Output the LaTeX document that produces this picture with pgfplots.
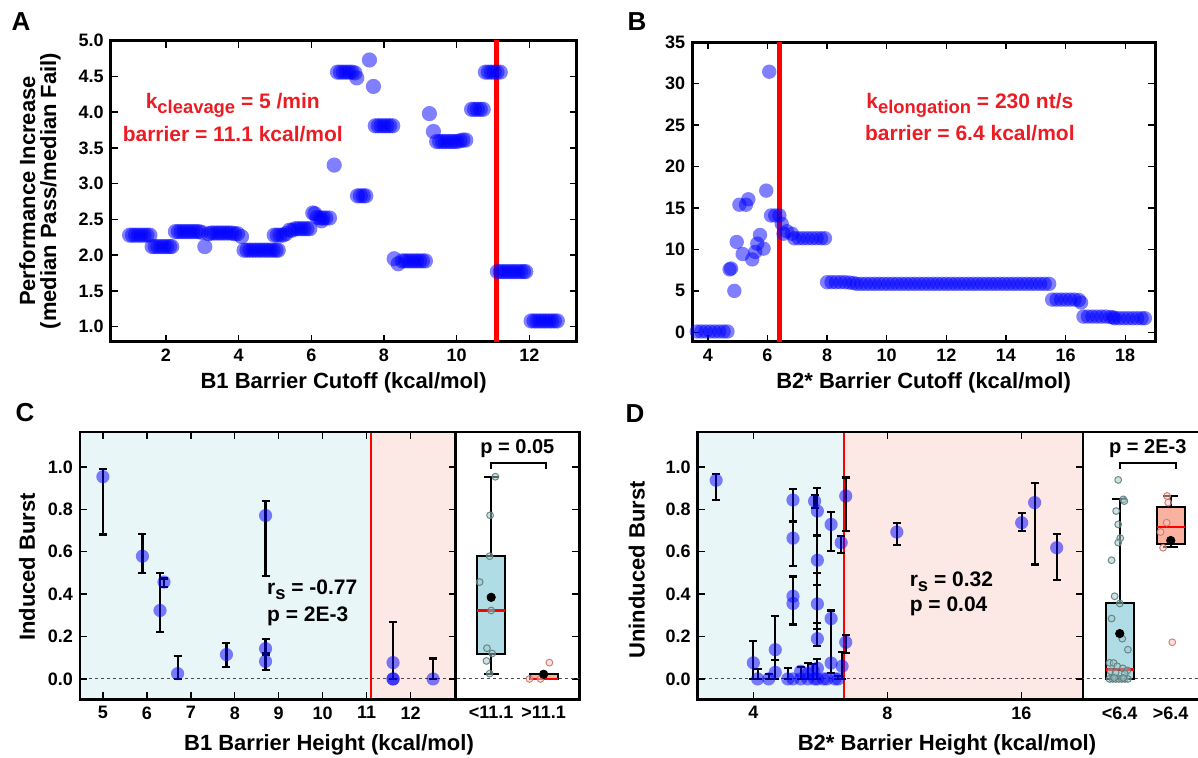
\documentclass[border=0pt]{standalone}
\usepackage{fontspec}
\setmainfont{Liberation Sans}
\usepackage{pgfplots}
\pgfplotsset{compat=1.18}
\usepgfplotslibrary{statistics}
\definecolor{txtred}{RGB}{236,28,36}
\definecolor{bgblue}{RGB}{233,246,248}
\definecolor{bgpink}{RGB}{252,232,229}
\definecolor{boxblue}{RGB}{176,221,229}
\definecolor{boxpink}{RGB}{250,178,160}
\definecolor{dotedgeb}{RGB}{95,125,125}
\definecolor{dotfillb}{RGB}{160,200,205}
\definecolor{dotedgep}{RGB}{200,120,110}
\definecolor{dotfillp}{RGB}{250,200,190}
\newcommand{\sub}[1]{\raisebox{-0.45ex}{\fontsize{9.2}{9.2}\selectfont #1}}
\pgfplotsset{
  panel/.style={scale only axis, anchor=south west, axis line style={line width=1.3pt},
    tick align=inside, major tick length=3.5pt, tick style={black, line width=0.7pt},
    tick label style={font=\fontsize{9}{9}\selectfont},
    /pgf/number format/assume math mode=true},
  onedec/.style={yticklabel style={/pgf/number format/fixed, /pgf/number format/fixed zerofill, /pgf/number format/precision=1}},
  bluept/.style={blue, only marks, mark=*, mark size=3.4pt, mark options={draw opacity=0, fill=blue, fill opacity=0.5}},
  ebars/.style={black, only marks, mark=*, mark size=0.01pt, forget plot,
    error bars/.cd, y dir=both, y explicit, error mark=-,
    error bar style={draw=black, line width=1.1pt, opacity=1},
    error mark options={rotate=90, draw=black, draw opacity=1, opacity=1, line width=1.1pt, mark size=2pt}},
  zline/.style={gray!60!black, line width=0.5pt, dash pattern=on 1.5pt off 1.5pt, forget plot},
  dotb/.style={only marks, mark=*, mark size=1.7pt, mark options={draw=dotedgeb, fill=dotfillb, fill opacity=0.5, draw opacity=0.9, line width=0.5pt}},
  dotp/.style={only marks, mark=*, mark size=1.7pt, mark options={draw=dotedgep, fill=dotfillp, fill opacity=0.5, draw opacity=0.9, line width=0.5pt}},
  bxp/.style={draw=black, line width=1pt, boxplot/draw direction=y,
    boxplot/every median/.style={draw=red, line width=1.3pt}},
}
\begin{document}
\bfseries
\begin{tikzpicture}
\useasboundingbox (0,0) rectangle (599pt,379pt);
% ---------------- Panel A
\begin{axis}[panel, at={(55.35pt,208.15pt)}, width=232.95pt, height=150.5pt,
  xmin=0.48, xmax=13.3, ymin=0.79, ymax=5.0, xtick={2,4,6,8,10,12},
  ytick={1,1.5,2,2.5,3,3.5,4,4.5,5}, onedec, axis line style={line width=1.5pt}]
\addplot[red, line width=2.6pt, forget plot] coordinates {(11.1,0) (11.1,6)};
\addplot[bluept, mark size=3.8pt] coordinates {
(1.00,2.28)(1.08,2.28)(1.16,2.28)(1.24,2.28)(1.32,2.28)(1.40,2.28)(1.48,2.28)(1.56,2.28)
(1.62,2.12)(1.70,2.12)(1.78,2.12)(1.86,2.12)(1.94,2.12)(2.02,2.12)(2.10,2.12)(2.16,2.12)
(2.26,2.33)(2.34,2.33)(2.42,2.33)(2.50,2.33)(2.58,2.33)(2.66,2.33)(2.74,2.33)(2.82,2.33)(2.90,2.33)(2.98,2.32)
(3.07,2.12)
(3.17,2.30)(3.25,2.31)(3.33,2.31)(3.41,2.31)(3.49,2.31)(3.57,2.31)(3.65,2.31)(3.73,2.31)(3.81,2.31)(3.89,2.30)(3.97,2.30)
(4.08,2.26)
(4.15,2.07)(4.23,2.07)(4.31,2.07)(4.39,2.07)(4.47,2.07)(4.55,2.07)(4.63,2.07)(4.71,2.07)(4.79,2.07)(4.87,2.07)(4.95,2.07)(5.03,2.07)(5.09,2.07)
(4.98,2.28)(5.06,2.28)(5.14,2.28)(5.22,2.28)(5.30,2.30)
(5.40,2.35)(5.48,2.35)(5.56,2.37)(5.64,2.37)(5.72,2.37)(5.80,2.37)(5.88,2.37)(5.96,2.37)
(6.04,2.59)(6.10,2.58)
(6.16,2.53)(6.24,2.52)(6.28,2.48)(6.32,2.52)(6.40,2.52)(6.50,2.52)
(6.63,3.26)
(6.72,4.56)(6.80,4.56)(6.88,4.56)(6.96,4.56)(7.04,4.56)(7.12,4.56)(7.20,4.55)
(7.25,4.48)
(7.27,2.83)(7.35,2.83)(7.43,2.83)(7.50,2.83)
(7.60,4.73)(7.71,4.36)
(7.76,3.81)(7.84,3.81)(7.92,3.81)(8.00,3.81)(8.08,3.81)(8.16,3.81)(8.24,3.81)
(8.28,1.95)(8.39,1.88)
(8.50,1.92)(8.58,1.92)(8.66,1.92)(8.74,1.92)(8.82,1.92)(8.90,1.92)(8.98,1.92)(9.06,1.92)(9.14,1.92)
(9.25,3.98)(9.36,3.73)
(9.45,3.59)(9.53,3.59)(9.61,3.59)(9.69,3.59)(9.77,3.59)(9.85,3.59)(9.93,3.59)(10.01,3.59)(10.09,3.60)(10.17,3.61)(10.25,3.61)
(10.41,4.04)(10.49,4.04)(10.57,4.04)(10.65,4.04)(10.73,4.04)
(10.79,4.56)(10.87,4.56)(10.95,4.56)(11.03,4.56)(11.11,4.56)(11.20,4.56)
(11.12,1.77)(11.20,1.77)(11.28,1.77)(11.36,1.77)(11.44,1.77)(11.52,1.77)(11.60,1.77)(11.68,1.77)(11.76,1.77)(11.84,1.77)(11.90,1.77)
(12.05,1.08)(12.13,1.08)(12.21,1.08)(12.29,1.08)(12.37,1.08)(12.45,1.08)(12.53,1.08)(12.61,1.08)(12.69,1.08)(12.77,1.08)
};
\node[txtred, font=\fontsize{10.5}{10.5}\selectfont] at (axis cs:3.84,4.10) {k\sub{cleavage} = 5 /min};
\node[txtred, font=\fontsize{10.5}{10.5}\selectfont] at (axis cs:3.84,3.70) {barrier = 11.1 kcal/mol};
\end{axis}
% ---------------- Panel B
\begin{axis}[panel, at={(346.15pt,208.15pt)}, width=231.35pt, height=149.7pt,
  xmin=3.48, xmax=19.0, ymin=-1.13, ymax=35, xtick={4,6,8,10,12,14,16,18},
  ytick={0,5,10,15,20,25,30,35}, axis line style={line width=1.5pt}]
\addplot[red, line width=2.6pt, forget plot] coordinates {(6.4,-5) (6.4,40)};
\addplot[bluept, mark size=3.6pt] coordinates {
(3.63,0.1)(3.78,0.1)(3.93,0.1)(4.08,0.1)(4.23,0.1)(4.38,0.1)(4.53,0.1)(4.66,0.1)
(4.73,7.6)(4.78,7.7)(4.89,5.0)(4.97,10.9)(5.06,15.4)(5.17,9.45)(5.28,15.4)(5.36,16.05)(5.49,8.8)(5.59,9.7)(5.66,10.7)(5.75,11.75)(5.87,10.1)(5.96,17.1)(6.06,31.45)(6.12,14.1)(6.26,14.1)(6.40,14.1)(6.48,13.1)(6.54,11.9)(6.65,12.2)(6.82,11.9)
(6.90,11.35)(7.05,11.35)(7.20,11.35)(7.35,11.35)(7.50,11.35)(7.65,11.35)(7.80,11.35)(7.93,11.35)
(8.00,6.05)(8.15,6.05)(8.30,6.05)(8.45,6.05)(8.60,6.05)(8.75,6.0)(8.88,5.95)
(9.00,5.85)(9.15,5.85)(9.30,5.85)(9.45,5.85)(9.60,5.85)(9.75,5.85)(9.90,5.85)(10.05,5.85)(10.20,5.85)(10.35,5.85)(10.50,5.85)(10.65,5.85)(10.80,5.85)(10.95,5.85)(11.10,5.85)(11.25,5.85)(11.40,5.85)(11.55,5.85)(11.70,5.85)(11.85,5.85)(12.00,5.85)(12.15,5.85)(12.30,5.85)(12.45,5.85)(12.60,5.85)(12.75,5.85)(12.90,5.85)(13.05,5.85)(13.20,5.85)(13.35,5.85)(13.50,5.85)(13.65,5.85)(13.80,5.85)(13.95,5.85)(14.10,5.85)(14.25,5.85)(14.40,5.85)(14.55,5.85)(14.70,5.85)(14.85,5.85)(15.00,5.85)(15.15,5.85)(15.30,5.85)(15.45,5.85)
(15.55,3.95)(15.70,3.95)(15.85,3.95)(16.00,3.95)(16.15,3.95)(16.30,3.95)(16.45,3.9)(16.52,3.6)
(16.60,1.9)(16.75,1.9)(16.90,1.9)(17.05,1.9)(17.20,1.9)(17.35,1.9)(17.50,1.85)(17.60,1.8)
(17.65,1.7)(17.80,1.7)(17.95,1.7)(18.10,1.7)(18.25,1.7)(18.40,1.7)(18.55,1.7)(18.66,1.7)
};
\node[txtred, font=\fontsize{10.5}{10.5}\selectfont] at (axis cs:12.79,27.4) {k\sub{elongation} = 230 nt/s};
\node[txtred, font=\fontsize{10.5}{10.5}\selectfont] at (axis cs:12.79,24.0) {barrier = 6.4 kcal/mol};
\end{axis}
% ---------------- Panel C main
\begin{axis}[panel, at={(40pt,29.25pt)}, width=187.75pt, height=133.75pt, axis on top,
  xmin=4.48, xmax=13.02, ymin=-0.097, ymax=1.165, xtick={5,6,7,8,9,10,11,12},
  ytick={0,0.2,0.4,0.6,0.8,1.0}, onedec]
\addplot[fill=bgblue, draw=none, forget plot] coordinates {(4,-0.5) (11.1,-0.5) (11.1,1.5) (4,1.5)} -- cycle;
\addplot[fill=bgpink, draw=none, forget plot] coordinates {(11.1,-0.5) (14,-0.5) (14,1.5) (11.1,1.5)} -- cycle;
\addplot[zline] coordinates {(4,0) (14,0)};
\addplot[red, line width=1.2pt, forget plot] coordinates {(11.1,-0.5) (11.1,1.5)};
\addplot[bluept, mark size=3.3pt] coordinates {(5.0,0.954)(5.9,0.579)(6.3,0.323)(6.39,0.457)(6.7,0.025)(7.81,0.115)(8.7,0.771)(8.7,0.143)(8.7,0.083)(11.6,0.077)(11.6,0.0)(11.6,0.0)(12.51,0.0)};
\addplot[ebars] coordinates {
(5.0,0.954) += (0,0.035) -= (0,0.273)
(5.9,0.579) += (0,0.106) -= (0,0.081)
(6.3,0.323) += (0,0.177) -= (0,0.102)
(6.39,0.457) += (0,0.017) -= (0,0.022)
(6.7,0.025) += (0,0.082) -= (0,0.025)
(7.81,0.115) += (0,0.055) -= (0,0.058)
(8.7,0.771) += (0,0.067) -= (0,0.286)
(8.7,0.143) += (0,0.047) -= (0,0.03)
(8.7,0.083) += (0,0.037) -= (0,0.039)
(11.6,0.077) += (0,0.193) -= (0,0.077)
(12.51,0.0) += (0,0.096) -= (0,0.0)
};
\node[anchor=west, font=\fontsize{10.5}{10.5}\selectfont] at (axis cs:8.575,0.419) {r\sub{s} = -0.77};
\node[anchor=west, font=\fontsize{10.5}{10.5}\selectfont] at (axis cs:8.575,0.293) {p = 2E-3};
\end{axis}
% ---------------- Panel C box
\begin{axis}[panel, at={(227.75pt,29.25pt)}, width=61.9pt, height=133.75pt,
  xmin=-0.68, xmax=1.68, ymin=-0.097, ymax=1.165, xtick={0,1}, xticklabels={<11.1,>11.1},
  ytick={0,0.2,0.4,0.6,0.8,1.0}, yticklabels={}, ytick pos=right, xtick style={draw=none}]
\addplot[zline] coordinates {(-1,0) (2,0)};
\addplot[bxp, fill=boxblue,
  boxplot prepared={draw position=0, lower whisker=0.025, lower quartile=0.116, median=0.323,
  upper quartile=0.582, upper whisker=0.954, box extend=0.53, whisker extend=0.28}] coordinates {};
\addplot[bxp, fill=boxpink,
  boxplot prepared={draw position=1, lower whisker=0, lower quartile=0, median=0,
  upper quartile=0.025, upper whisker=0.025, box extend=0.53, whisker extend=0.28}] coordinates {};
\addplot[dotb] coordinates {(0.08,0.954)(-0.02,0.772)(-0.03,0.579)(-0.22,0.457)(0,0.323)(-0.08,0.145)(0.02,0.12)(-0.09,0.085)(-0.03,0.025)};
\addplot[dotp] coordinates {(0.73,0)(0.94,0)(1.11,0.077)};
\addplot[only marks, mark=*, mark size=2.1pt, black] coordinates {(0,0.385)(1,0.022)};
\addplot[black, line width=1pt, forget plot] coordinates {(0,0.99) (0,1.02) (1.05,1.02) (1.05,0.99)};
\node[font=\fontsize{10}{10}\selectfont] at (axis cs:0.5,1.085) {p = 0.05};
\end{axis}
% ---------------- Panel D main
\begin{axis}[panel, at={(348.85pt,29.25pt)}, width=192.65pt, height=133.75pt, axis on top,
  xmode=log, log basis x=2, xmin=3, xmax=22, ymin=-0.097, ymax=1.165,
  xtick={4,8,16}, xticklabels={4,8,16}, minor xtick={}, ytick={0,0.2,0.4,0.6,0.8,1.0}, onedec]
\addplot[fill=bgblue, draw=none, forget plot] coordinates {(2,-0.5) (6.4,-0.5) (6.4,1.5) (2,1.5)} -- cycle;
\addplot[fill=bgpink, draw=none, forget plot] coordinates {(6.4,-0.5) (30,-0.5) (30,1.5) (6.4,1.5)} -- cycle;
\addplot[zline] coordinates {(2,0) (30,0)};
\addplot[red, line width=1.2pt, forget plot] coordinates {(6.4,-0.5) (6.4,1.5)};
\addplot[bluept, mark size=3.3pt] coordinates {
(3.30,0.937)(4.00,0.076)(4.09,0.0)(4.33,0.0)(4.48,0.138)(4.48,0.031)(4.78,0.0)
(4.91,0.844)(4.91,0.664)(4.91,0.390)(4.91,0.356)(4.91,0.0)(5.11,0.036)(5.11,0.0)
(5.30,0.025)(5.30,0.0)(5.45,0.04)(5.49,0.839)(5.49,0.0)
(5.57,0.792)(5.57,0.56)(5.57,0.354)(5.57,0.19)(5.57,0.05)(5.57,0.0)(5.75,0.0)(5.85,0.0)
(5.98,0.729)(5.98,0.285)(5.98,0.075)(6.10,0.0)(6.20,0.0)(6.30,0.643)(6.33,0.06)
(6.45,0.863)(6.45,0.173)(8.40,0.693)(16.02,0.737)(17.13,0.832)(19.2,0.619)};
\addplot[ebars] coordinates {
(3.30,0.937) += (0,0.028) -= (0,0.094)
(4.00,0.076) += (0,0.102) -= (0,0.076)
(4.09,0.0) += (0,0.047) -= (0,0.0)
(4.33,0.0) += (0,0.025) -= (0,0.0)
(4.48,0.138) += (0,0.158) -= (0,0.048)
(4.48,0.031) += (0,0.059) -= (0,0.031)
(4.78,0.0) += (0,0.052) -= (0,0.0)
(4.91,0.844) += (0,0.052) -= (0,0.101)
(4.91,0.664) += (0,0.079) -= (0,0.132)
(4.91,0.390) += (0,0.095) -= (0,0.13)
(4.91,0.356) += (0,0.124) -= (0,0.101)
(5.11,0.036) += (0,0.021) -= (0,0.036)
(5.30,0.025) += (0,0.05) -= (0,0.025)
(5.45,0.04) += (0,0.03) -= (0,0.04)
(5.49,0.839) += (0,0.027) -= (0,0.031)
(5.57,0.792) += (0,0.11) -= (0,0.115)
(5.57,0.56) += (0,0.117) -= (0,0.118)
(5.57,0.354) += (0,0.146) -= (0,0.118)
(5.57,0.19) += (0,0.075) -= (0,0.033)
(5.57,0.05) += (0,0.045) -= (0,0.05)
(5.98,0.729) += (0,0.058) -= (0,0.126)
(5.98,0.285) += (0,0.038) -= (0,0.257)
(6.20,0.0) += (0,0.015) -= (0,0.0)
(6.30,0.643) += (0,0.031) -= (0,0.048)
(6.33,0.06) += (0,0.068) -= (0,0.06)
(6.45,0.863) += (0,0.087) -= (0,0.165)
(6.45,0.173) += (0,0.036) -= (0,0.05)
(8.40,0.693) += (0,0.041) -= (0,0.063)
(16.02,0.737) += (0,0.044) -= (0,0.039)
(17.13,0.832) += (0,0.094) -= (0,0.292)
(19.2,0.619) += (0,0.063) -= (0,0.154)
};
\node[anchor=west, font=\fontsize{10.5}{10.5}\selectfont] at (axis cs:8.66,0.459) {r\sub{s} = 0.32};
\node[anchor=west, font=\fontsize{10.5}{10.5}\selectfont] at (axis cs:8.66,0.341) {p = 0.04};
\end{axis}
% ---------------- Panel D box
\begin{axis}[panel, at={(541.5pt,29.25pt)}, width=58.65pt, height=133.75pt,
  xmin=-0.72, xmax=1.58, ymin=-0.097, ymax=1.165, xtick={0,1}, xticklabels={<6.4,>6.4},
  ytick={0,0.2,0.4,0.6,0.8,1.0}, yticklabels={}, ytick style={draw=none}, xtick style={draw=none}]
\addplot[zline] coordinates {(-1,0) (2,0)};
\addplot[bxp, fill=boxblue,
  boxplot prepared={draw position=0, lower whisker=0, lower quartile=0, median=0.044,
  upper quartile=0.356, upper whisker=0.847, box extend=0.55, whisker extend=0.29}] coordinates {};
\addplot[bxp, fill=boxpink,
  boxplot prepared={draw position=1, lower whisker=0.622, lower quartile=0.635, median=0.716,
  upper quartile=0.811, upper whisker=0.863, box extend=0.55, whisker extend=0.29}] coordinates {};
\addplot[dotb] coordinates {(-0.03,0.939)(0.07,0.847)(0.09,0.839)(-0.07,0.792)(-0.03,0.729)(0.01,0.664)(-0.03,0.643)(-0.16,0.56)(-0.1,0.39)(0,0.356)(-0.16,0.285)(0.05,0.19)(0.16,0.138)(-0.2,0.076)(-0.12,0.075)(-0.05,0.06)(0.06,0.05)(0.15,0.04)(-0.18,0.036)(-0.08,0.031)(0.1,0.025)(-0.2,0.0)(-0.14,0.0)(-0.08,0.0)(-0.02,0.0)(0.04,0.0)(0.1,0.0)(0.16,0.0)(-0.11,0.005)(0.07,0.005)};
\addplot[dotp] coordinates {(0.93,0.863)(0.95,0.832)(0.92,0.737)(0.8,0.693)(0.85,0.619)(1.03,0.173)};
\addplot[only marks, mark=*, mark size=2.1pt, black] coordinates {(0,0.214)(1,0.653)};
\addplot[black, line width=1pt, forget plot] coordinates {(0,0.99) (0,1.02) (1.1,1.02) (1.1,0.99)};
\node[font=\fontsize{10}{10}\selectfont] at (axis cs:0.55,1.085) {p = 2E-3};
\end{axis}
% ---------------- labels
\node[font=\fontsize{11}{11}\selectfont] at (171.8pt,187.5pt) {B1 Barrier Cutoff (kcal/mol)};
\node[font=\fontsize{11}{11}\selectfont] at (461.8pt,187.5pt) {B2* Barrier Cutoff (kcal/mol)};
\node[font=\fontsize{11}{10.5}\selectfont, rotate=90, align=center] at (20pt,283.5pt) {Performance Increase\\(median Pass/median Fail)};
\node[font=\fontsize{11}{11}\selectfont] at (164.5pt,6.8pt) {B1 Barrier Height (kcal/mol)};
\node[font=\fontsize{11}{11}\selectfont] at (473.5pt,6.8pt) {B2* Barrier Height (kcal/mol)};
\node[font=\fontsize{11}{11}\selectfont, rotate=90] at (13.5pt,95.5pt) {Induced Burst};
\node[font=\fontsize{11}{11}\selectfont, rotate=90] at (318.35pt,94pt) {Uninduced Burst};
\node[font=\fontsize{13}{13}\selectfont] at (10.5pt,368pt) {A};
\node[font=\fontsize{13}{13}\selectfont] at (318.5pt,368pt) {B};
\node[font=\fontsize{13}{13}\selectfont] at (12.5pt,172.5pt) {C};
\node[font=\fontsize{13}{13}\selectfont] at (317.5pt,172pt) {D};
\end{tikzpicture}
\end{document}
